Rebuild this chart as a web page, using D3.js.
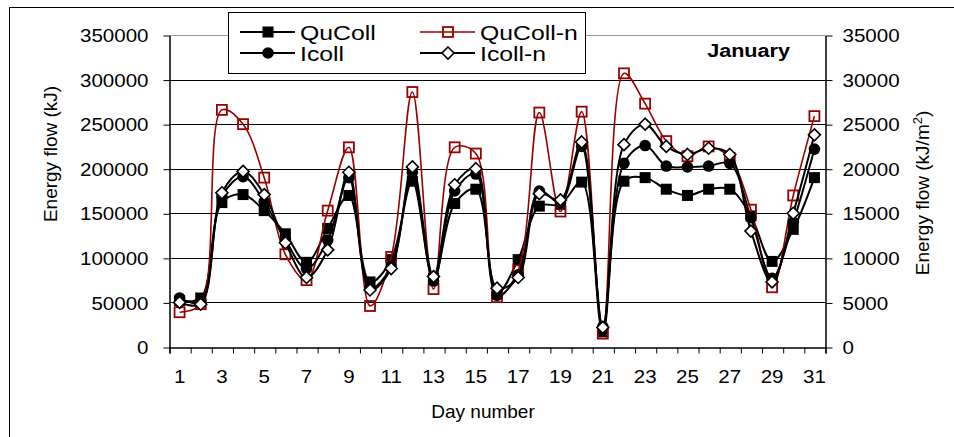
<!DOCTYPE html>
<html>
<head>
<meta charset="utf-8">
<script src="https://cdn.jsdelivr.net/npm/d3@7"></script>
<style>
  body { margin: 0; background: #fff; }
  svg { display: block; font-family: "Liberation Sans", Arial, sans-serif; }
</style>
</head>
<body>
<svg id="chart" width="954" height="437"></svg>
<script>
// day numbers and tick values
const days = d3.range(1, 32);
const dayLabels = [1, 3, 5, 7, 9, 11, 13, 15, 17, 19, 21, 23, 25, 27, 29, 31];
const leftTicks = [0, 50000, 100000, 150000, 200000, 250000, 300000, 350000];
const rightTicks = [0, 5000, 10000, 15000, 20000, 25000, 30000, 35000];

// series values (kJ)
const quColl = [52000, 55000, 162000, 171000, 153000, 127000, 95000, 133000, 170000, 73000,
  98000, 186000, 77000, 161000, 177000, 60000, 98000, 158000, 160000, 185000,
  17000, 186000, 190000, 177000, 170000, 177000, 177000, 147000, 96000, 132000, 190000];
const quCollN = [39000, 48000, 266000, 250000, 190000, 104000, 75000, 153000, 224000, 46000,
  101000, 286000, 65000, 224000, 217000, 56000, 86000, 263000, 152000, 264000,
  15000, 307000, 273000, 231000, 214000, 225000, 212000, 154000, 67000, 170000, 259000];
const icoll = [55000, 50000, 169000, 191000, 163000, 120000, 88000, 120000, 190000, 66000,
  90000, 196000, 74000, 175000, 194000, 58000, 81000, 175000, 162000, 225000,
  23000, 206000, 226000, 203000, 202000, 203000, 206000, 145000, 77000, 140000, 222000];
const icollN = [50000, 48000, 173000, 197000, 171000, 117000, 78000, 109000, 196000, 64000,
  88000, 202000, 79000, 182000, 200000, 66000, 78000, 172000, 165000, 230000,
  22000, 227000, 250000, 225000, 216000, 223000, 216000, 130000, 73000, 150000, 238000];

const series = [
  { name: 'QuColl', values: quColl, color: '#000', marker: 'square' },
  { name: 'QuColl-n', values: quCollN, color: '#990000', marker: 'hollowSquare' },
  { name: 'Icoll', values: icoll, color: '#000', marker: 'circle' },
  { name: 'Icoll-n', values: icollN, color: '#000', marker: 'diamond' },
];

const plot = { left: 169, right: 825, top: 35, bottom: 347 };

const svg = d3.select('#chart');

const x = d3.scaleBand().domain(days).range([plot.left, plot.right]);
const xEdge = d3.scaleLinear().domain([0.5, 31.5]).range([plot.left, plot.right]);
const y = d3.scaleLinear().domain([0, 350000]).range([plot.bottom, plot.top]);
const y2 = d3.scaleLinear().domain([0, 35000]).range([plot.bottom, plot.top]);
const cx = (d) => x(d) + x.bandwidth() / 2;
const plain = d3.format('d');

// widen horizontal text a little, the source chart is stretched
function stretch(sel, k) {
  sel.each(function () {
    const w = this.getComputedTextLength();
    d3.select(this).attr('textLength', w * k).attr('lengthAdjust', 'spacingAndGlyphs');
  });
}

// outer frame
svg.append('rect')
  .attr('x', 9.5).attr('y', 7.5)
  .attr('width', 960).attr('height', 440)
  .attr('fill', 'none').attr('stroke', '#000');

// gridlines
svg.append('g')
  .selectAll('line')
  .data(leftTicks.filter((d) => d > 0))
  .join('line')
  .attr('x1', plot.left).attr('x2', plot.right)
  .attr('y1', (d) => Math.round(y(d)) + 0.5)
  .attr('y2', (d) => Math.round(y(d)) + 0.5)
  .attr('stroke', (d) => (d === 350000 ? '#999' : '#000'))
  .attr('stroke-width', 1);

// left axis
svg.append('g')
  .attr('transform', `translate(${plot.left + 0.5},0.5)`)
  .call(d3.axisLeft(y).tickValues(leftTicks).tickFormat(plain)
    .tickSize(6).tickSizeOuter(0).tickPadding(15))
  .call((g) => g.select('.domain').attr('stroke-width', 1.5))
  .call((g) => g.selectAll('.tick text')
    .attr('font-size', 19).attr('font-family', 'Liberation Sans, Arial, sans-serif')
    .call(stretch, 1.08));

// right axis
svg.append('g')
  .attr('transform', `translate(${plot.right + 0.5},0.5)`)
  .call(d3.axisRight(y2).tickValues(rightTicks).tickFormat(plain)
    .tickSize(7).tickSizeOuter(0).tickPadding(10))
  .call((g) => g.select('.domain').attr('stroke-width', 1.5))
  .call((g) => g.selectAll('.tick text')
    .attr('font-size', 19).attr('font-family', 'Liberation Sans, Arial, sans-serif')
    .call(stretch, 1.08));

// bottom axis: tick marks between days
svg.append('g')
  .attr('transform', `translate(0.5,${plot.bottom + 0.5})`)
  .call(d3.axisBottom(xEdge).tickValues(d3.range(0.5, 32)).tickSize(6).tickFormat(''))
  .call((g) => g.select('.domain').attr('stroke-width', 1.5));

// bottom axis: labels for odd days
svg.append('g')
  .attr('transform', `translate(0,${plot.bottom})`)
  .call(d3.axisBottom(x).tickValues(dayLabels).tickSize(0).tickPadding(23))
  .call((g) => g.select('.domain').remove())
  .call((g) => g.selectAll('.tick text')
    .attr('font-size', 19).attr('font-family', 'Liberation Sans, Arial, sans-serif')
    .call(stretch, 1.08));

// axis titles
svg.append('text')
  .attr('transform', 'translate(57,154) rotate(-90)')
  .attr('text-anchor', 'middle')
  .attr('font-size', 19)
  .text('Energy flow (kJ)');

svg.append('text')
  .attr('transform', 'translate(929,193) rotate(-90)')
  .attr('text-anchor', 'middle')
  .attr('font-size', 19)
  .call((t) => t.append('tspan').text('Energy flow (kJ/m'))
  .call((t) => t.append('tspan').attr('dy', -7).attr('font-size', 13).text('2'))
  .call((t) => t.append('tspan').attr('dy', 7).text(')'));

svg.append('text')
  .attr('x', 483).attr('y', 418)
  .attr('text-anchor', 'middle')
  .attr('font-size', 19)
  .text('Day number');

svg.append('text')
  .attr('x', 790).attr('y', 57)
  .attr('text-anchor', 'end')
  .attr('font-size', 18)
  .attr('font-weight', 'bold')
  .text('January')
  .call(stretch, 1.2);

// draw one marker shape into a selection of groups
function drawMarker(g, type, color) {
  if (type === 'square') {
    g.append('rect').attr('x', -5.5).attr('y', -5.5).attr('width', 11).attr('height', 11)
      .attr('fill', color);
  } else if (type === 'hollowSquare') {
    g.append('rect').attr('x', -5).attr('y', -5).attr('width', 10).attr('height', 10)
      .attr('fill', 'none').attr('stroke', color).attr('stroke-width', 1.8);
  } else if (type === 'circle') {
    g.append('circle').attr('r', 5.8).attr('fill', color);
  } else {
    g.append('path').attr('d', 'M0,-6L6,0L0,6L-6,0Z')
      .attr('fill', '#fff').attr('stroke', color).attr('stroke-width', 1.6);
  }
}

const line = d3.line()
  .x((d, i) => cx(days[i]))
  .y((d) => y(d))
  .curve(d3.curveCatmullRom.alpha(0.5));

// series lines and markers
series.forEach((s) => {
  const g = svg.append('g').attr('class', 'series');
  g.append('path')
    .attr('d', line(s.values))
    .attr('fill', 'none')
    .attr('stroke', s.color)
    .attr('stroke-width', s.marker === 'hollowSquare' ? 1.6 : 2);
  g.selectAll('g.marker')
    .data(s.values)
    .join('g')
    .attr('class', 'marker')
    .attr('transform', (d, i) => `translate(${cx(days[i])},${y(d)})`)
    .each(function () { drawMarker(d3.select(this), s.marker, s.color); });
});

// legend
const legend = svg.append('g');
legend.append('rect')
  .attr('x', 228.5).attr('y', 12.5)
  .attr('width', 357).attr('height', 61)
  .attr('fill', '#fff').attr('stroke', '#000');

const legendPos = [
  { lx: 240, ty: 32 }, { lx: 420, ty: 32 },
  { lx: 240, ty: 53 }, { lx: 420, ty: 53 },
];
series.forEach((s, i) => {
  const p = legendPos[i];
  const item = legend.append('g').attr('transform', `translate(${p.lx},${p.ty})`);
  item.append('line')
    .attr('x1', 0).attr('x2', 55)
    .attr('stroke', s.color).attr('stroke-width', s.marker === 'hollowSquare' ? 1.6 : 2);
  item.append('g').attr('transform', 'translate(28,0)')
    .call((m) => drawMarker(m, s.marker, s.color));
  item.append('text')
    .attr('x', 60).attr('y', 7.5)
    .attr('font-size', 21)
    .text(s.name)
    .call(stretch, 1.18);
});
</script>
</body>
</html>
